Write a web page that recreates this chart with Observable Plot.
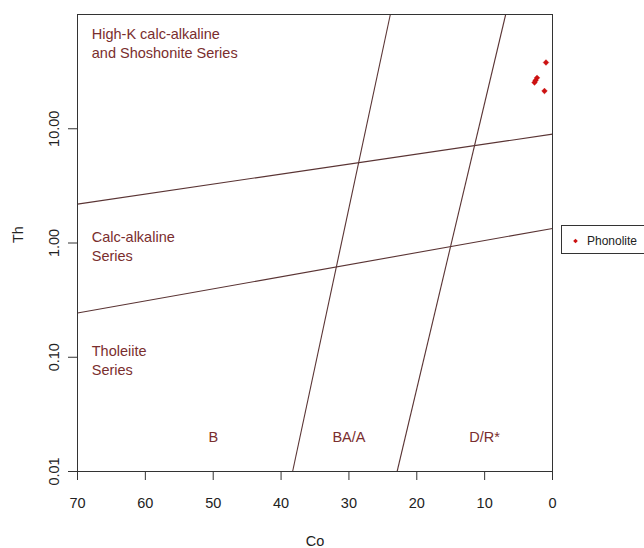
<!DOCTYPE html>
<html><head><meta charset="utf-8">
<script src="https://cdn.jsdelivr.net/npm/d3@7"></script>
<script src="https://cdn.jsdelivr.net/npm/@observablehq/plot@0.6"></script>
<style>
body{margin:0;background:#fff;}
#chart{position:relative;width:644px;height:548px;}
svg{font-family:"Liberation Sans",Arial,sans-serif;}
</style>
</head><body><div id="chart"></div>
<script>
// samples
const sampleCo = [0.96, 2.28, 2.5, 2.65, 1.18];
const sampleTh = [38.0, 27.9, 26.5, 25.4, 21.4];
const sampleGroup = "Phonolite";

// field boundaries (Co, Th endpoints)
const boundaryCoStart = [70, 70, 38.3, 22.9];
const boundaryThStart = [2.19, 0.244, 0.01, 0.01];
const boundaryCoEnd = [0, 0, 23.9, 6.9];
const boundaryThEnd = [8.97, 1.34, 100, 100];

// field labels
const fieldLabels = ["High-K calc-alkaline\nand Shoshonite Series", "Calc-alkaline\nSeries", "Tholeiite\nSeries"];
const fieldCo = [67.9, 67.9, 67.9];
const fieldTh = [56.9, 0.956, 0.0964];

const rockLabels = ["B", "BA/A", "D/R*"];
const rockCo = [50, 30, 10];
const rockTh = [0.02, 0.02, 0.02];

// axes
const xTicks = [70, 60, 50, 40, 30, 20, 10, 0];
const yTicks = [0.01, 0.1, 1, 10];
const yTickLabels = ["0.01", "0.10", "1.00", "10.00"];
const xTitle = "Co";
const yTitle = "Th";

const samples = sampleCo.map((c, i) => ({Co: c, Th: sampleTh[i], group: sampleGroup}));
const boundaries = boundaryCoStart.map((c, i) => ({x1: c, y1: boundaryThStart[i], x2: boundaryCoEnd[i], y2: boundaryThEnd[i]}));
const fields = fieldLabels.map((t, i) => ({text: t, Co: fieldCo[i], Th: fieldTh[i]}));
const rocks = rockLabels.map((t, i) => ({text: t, Co: rockCo[i], Th: rockTh[i]}));

const labelColor = "#7a2e2e";
const lineColor = "#5a3434";
const pointColor = "#cc1111";
const fs = 14.5;

const chart = Plot.plot({
  width: 644,
  height: 548,
  marginLeft: 77,
  marginRight: 92,
  marginTop: 14,
  marginBottom: 77,
  style: {fontFamily: '"Liberation Sans", Arial, sans-serif', fontSize: fs + "px", color: "#222", background: "#fff"},
  x: {domain: [70, 0], label: null},
  y: {type: "log", domain: [0.01, 100], label: null},
  marks: [
    Plot.link(boundaries, {x1: "x1", y1: "y1", x2: "x2", y2: "y2", stroke: lineColor, strokeWidth: 1.1}),
    Plot.text(fields, {x: "Co", y: "Th", text: "text", textAnchor: "start", lineAnchor: "middle", lineHeight: 1.3, fill: labelColor, fontSize: fs}),
    Plot.text(rocks, {x: "Co", y: "Th", text: "text", textAnchor: "middle", fill: labelColor, fontSize: fs}),
    Plot.dot(samples, {x: "Co", y: "Th", symbol: "diamond2", r: 2.6, fill: pointColor, stroke: pointColor, strokeWidth: 0.3}),
    Plot.frame({stroke: "#333", strokeWidth: 1}),
    Plot.axisX(xTicks, {anchor: "bottom", tickSize: 9, tickPadding: 17, fontSize: fs, stroke: "#333", fill: "#222", label: null}),
    Plot.axisY(yTicks, {anchor: "left", tickSize: 9, tickPadding: 10, tickRotate: -90, fontSize: fs, stroke: "#333", fill: "#222",
      tickFormat: d => yTickLabels[yTicks.indexOf(d)], label: null}),
    Plot.text([xTitle], {frameAnchor: "bottom", dy: 70, lineAnchor: "middle", fontSize: fs, fill: "#222"}),
    Plot.text([yTitle], {frameAnchor: "left", dx: -59, rotate: -90, lineAnchor: "middle", fontSize: fs, fill: "#222"})
  ]
});
document.getElementById("chart").appendChild(chart);

// legend drawn in right margin
const svg = d3.select(chart);
const lg = svg.append("g");
lg.append("rect").attr("x", 561.5).attr("y", 225.5).attr("width", 100).attr("height", 28)
  .attr("fill", "#fff").attr("stroke", "#333").attr("stroke-width", 1);
lg.append("path").attr("d", d3.symbol(d3.symbolDiamond2, 14)()).attr("transform", "translate(575.5,241)")
  .attr("fill", pointColor);
lg.append("text").attr("x", 587).attr("y", 241).attr("dy", "0.35em").attr("text-anchor", "start")
  .attr("font-size", 12).attr("fill", "#222").text(sampleGroup);
</script>
</body></html>
